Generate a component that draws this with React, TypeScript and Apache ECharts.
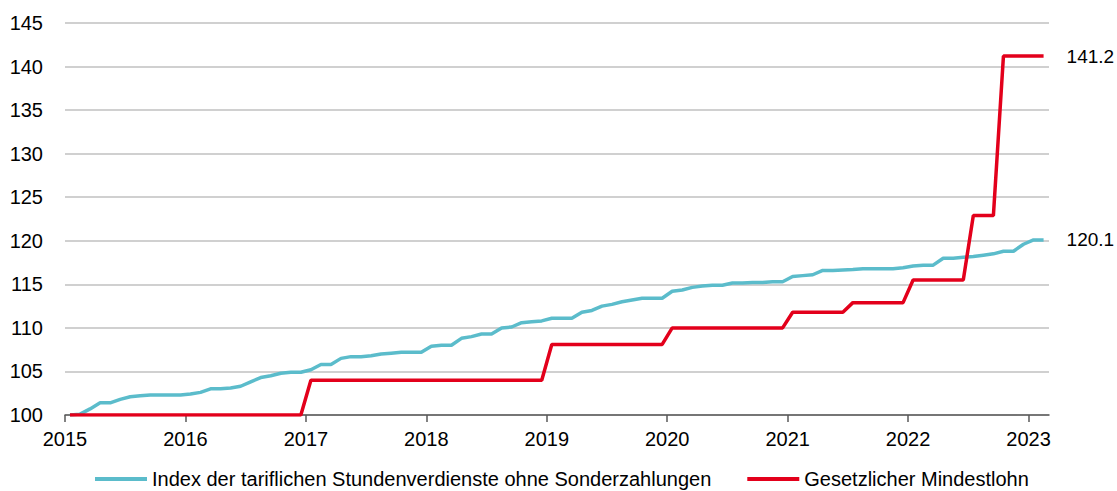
import React, { useEffect, useRef } from "react";
import * as echarts from "echarts";

const years = [2015, 2016, 2017, 2018, 2019, 2020, 2021, 2022, 2023];

const tariff2015 = [100.0, 100.1, 100.7, 101.4, 101.4, 101.8, 102.1, 102.2, 102.3, 102.3, 102.3, 102.3];
const tariff2016 = [102.4, 102.6, 103.0, 103.0, 103.1, 103.3, 103.8, 104.3, 104.5, 104.8, 104.9, 104.9];
const tariff2017 = [105.2, 105.8, 105.8, 106.5, 106.7, 106.7, 106.8, 107.0, 107.1, 107.2, 107.2, 107.2];
const tariff2018 = [107.9, 108.0, 108.0, 108.8, 109.0, 109.3, 109.3, 110.0, 110.1, 110.6, 110.7, 110.8];
const tariff2019 = [111.1, 111.1, 111.1, 111.8, 112.0, 112.5, 112.7, 113.0, 113.2, 113.4, 113.4, 113.4];
const tariff2020 = [114.2, 114.35, 114.65, 114.8, 114.9, 114.9, 115.15, 115.15, 115.2, 115.2, 115.3, 115.3];
const tariff2021 = [115.9, 116.0, 116.1, 116.6, 116.6, 116.65, 116.7, 116.8, 116.8, 116.8, 116.8, 116.9];
const tariff2022 = [117.1, 117.2, 117.2, 118.0, 118.0, 118.1, 118.2, 118.35, 118.5, 118.8, 118.8, 119.6];
const tariff2023 = [120.1, 120.1];

const minWage2015 = [100, 100, 100, 100, 100, 100, 100, 100, 100, 100, 100, 100];
const minWage2016 = [100, 100, 100, 100, 100, 100, 100, 100, 100, 100, 100, 100];
const minWage2017 = [104.0, 104.0, 104.0, 104.0, 104.0, 104.0, 104.0, 104.0, 104.0, 104.0, 104.0, 104.0];
const minWage2018 = [104.0, 104.0, 104.0, 104.0, 104.0, 104.0, 104.0, 104.0, 104.0, 104.0, 104.0, 104.0];
const minWage2019 = [108.1, 108.1, 108.1, 108.1, 108.1, 108.1, 108.1, 108.1, 108.1, 108.1, 108.1, 108.1];
const minWage2020 = [110.0, 110.0, 110.0, 110.0, 110.0, 110.0, 110.0, 110.0, 110.0, 110.0, 110.0, 110.0];
const minWage2021 = [111.8, 111.8, 111.8, 111.8, 111.8, 111.8, 112.9, 112.9, 112.9, 112.9, 112.9, 112.9];
const minWage2022 = [115.5, 115.5, 115.5, 115.5, 115.5, 115.5, 122.9, 122.9, 122.9, 141.2, 141.2, 141.2];
const minWage2023 = [141.2, 141.2];

const tariffByYear = [tariff2015, tariff2016, tariff2017, tariff2018, tariff2019, tariff2020, tariff2021, tariff2022, tariff2023];
const minWageByYear = [minWage2015, minWage2016, minWage2017, minWage2018, minWage2019, minWage2020, minWage2021, minWage2022, minWage2023];

const seriesNames = [
  "Index der tariflichen Stundenverdienste ohne Sonderzahlungen",
  "Gesetzlicher Mindestlohn",
];

const FONT = "'Liberation Sans', Arial, sans-serif";

function toPoints(byYear: number[][]) {
  const pts: [number, number][] = [];
  byYear.forEach((vals, yi) => {
    vals.forEach((v, m) => {
      // mid-month position on a year-valued axis
      pts.push([years[yi] + (m + 0.5) / 12, v]);
    });
  });
  return pts;
}

export default function App() {
  const ref = useRef<HTMLDivElement>(null);
  useEffect(() => {
    if (!ref.current) return;
    const chart = echarts.init(ref.current, null, { renderer: "svg" });
    const endLabel = {
      show: true,
      distance: 23,
      color: "#000",
      fontSize: 19,
      fontFamily: FONT,
      formatter: (p: any) => Number(p.value[1]).toFixed(1),
    };
    chart.setOption({
      animation: false,
      backgroundColor: "#fff",
      textStyle: { fontFamily: FONT },
      grid: { left: 65, right: 68, top: 23, bottom: 76, containLabel: false },
      legend: {
        left: 95,
        top: 469,
        width: 1020,
        padding: 0,
        icon: "rect",
        itemWidth: 52,
        itemHeight: 4,
        itemGap: 36,
        textStyle: { fontSize: 20, color: "#000", fontFamily: FONT },
        data: seriesNames,
      },
      xAxis: {
        type: "value",
        min: 2015,
        max: 2023.17,
        interval: 1,
        axisLine: { show: true, lineStyle: { color: "#595959", width: 1.5 } },
        axisTick: { show: true, length: 7, customValues: years, lineStyle: { color: "#595959", width: 1.5 } },
        axisLabel: {
          customValues: years,
          color: "#000",
          fontSize: 20,
          fontFamily: FONT,
          margin: 14,
          formatter: (v: number) => (Number.isInteger(v) ? String(v) : ""),
        },
        splitLine: { show: false },
      },
      yAxis: {
        type: "value",
        min: 100,
        max: 145,
        interval: 5,
        axisLine: { show: false },
        axisTick: { show: false },
        axisLabel: { color: "#000", fontSize: 20, fontFamily: FONT, margin: 22 },
        splitLine: { show: true, lineStyle: { color: "#c0c0c0", width: 1.5 } },
      },
      series: [
        {
          name: seriesNames[0],
          type: "line",
          data: toPoints(tariffByYear),
          symbol: "none",
          color: "#5bbccb",
          lineStyle: { width: 3.5, color: "#5bbccb" },
          endLabel,
        },
        {
          name: seriesNames[1],
          type: "line",
          data: toPoints(minWageByYear),
          symbol: "none",
          color: "#e3001b",
          lineStyle: { width: 3.5, color: "#e3001b" },
          endLabel,
        },
      ],
    });
    return () => chart.dispose();
  }, []);
  return (
    <div
      ref={ref}
      style={{ position: "fixed", left: 0, top: 0, width: 1117, height: 491, background: "#fff" }}
    />
  );
}
